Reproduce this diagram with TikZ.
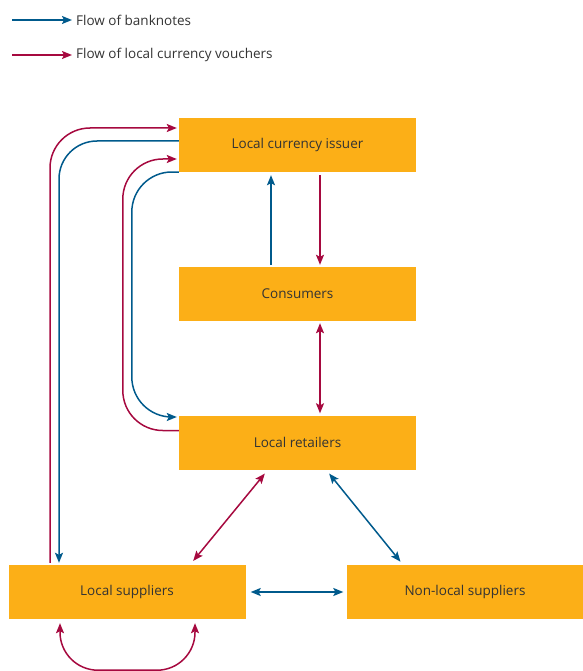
\documentclass[tikz,border=0pt]{standalone}
\usepackage{fontspec}
\setmainfont{Open Sans}
\usetikzlibrary{arrows.meta}
\definecolor{boxorange}{HTML}{FCAF17}
\definecolor{notesblue}{HTML}{005A8C}
\definecolor{voucherred}{HTML}{A6093F}
\definecolor{txtgrey}{HTML}{333333}
\tikzset{
  actor/.style={fill=boxorange, minimum width=237pt, minimum height=54pt, inner sep=0pt, text=txtgrey},
  notes/.style={draw=notesblue, line width=1.5pt, -{Stealth[length=10pt,width=8pt,inset=2pt]}},
  vouchers/.style={draw=voucherred, line width=1.5pt, -{Stealth[length=10pt,width=8pt,inset=2pt]}},
  both/.style={{Stealth[length=10pt,width=8pt,inset=2pt]}-{Stealth[length=10pt,width=8pt,inset=2pt]}},
  legendtext/.style={anchor=west, inner sep=4pt, text=txtgrey}
}
\begin{document}
\begin{tikzpicture}[x=1pt, y=-1pt, font=\fontsize{13.5}{16}\selectfont]
        \useasboundingbox (0,0) rectangle (582,671);

        % Legend
        \coordinate (legnotes) at (12,20);
        \coordinate (legvouchers) at (12,55);
        \node [legendtext] (legnotestext) at (72,20) {Flow of banknotes};
        \node [legendtext] (legvoucherstext) at (72,55) {Flow of local currency vouchers};
        \draw [notes] (legnotes) -- (legnotestext.west);
        \draw [vouchers] (legvouchers) -- (legvoucherstext.west);

        % Boxes
        \node [actor] (issuer) at (297.5,145) {Local currency issuer};
        \node [actor] (consumers) at (297.5,294) {Consumers};
        \node [actor] (retailers) at (297.5,442.5) {Local retailers};
        \node [actor] (suppliers) at (127,592) {Local suppliers};
        \node [actor] (nonlocal) at (465,592) {Non-local suppliers};

        % Issuer and consumers
        \draw [notes, shorten <=2pt, shorten >=3pt] ([xshift=-26.5pt]consumers.north) -- ([xshift=-26.5pt]issuer.south);
        \draw [vouchers, shorten <=3pt, shorten >=2pt] ([xshift=22.5pt]issuer.south) -- ([xshift=22.5pt]consumers.north);
        \draw [vouchers, both, shorten <=2pt, shorten >=2pt] ([xshift=22.5pt]consumers.south) -- ([xshift=22.5pt]retailers.north);

        % Retailers and suppliers
        \draw [vouchers, both, shorten <=5pt, shorten >=5pt] ([xshift=-29.5pt]retailers.south) -- ([xshift=63pt]suppliers.north);
        \draw [notes, both, shorten <=5pt, shorten >=4pt] ([xshift=28.5pt]retailers.south) -- ([xshift=-62pt]nonlocal.north);
        \draw [notes, both, shorten <=5pt, shorten >=3pt] (suppliers.east) -- (nonlocal.west);

        % Loops round the left side
        \draw [vouchers, rounded corners=40pt, shorten <=2pt, shorten >=2pt] ([xshift=-77pt]suppliers.north) |- ([yshift=17pt]issuer.west);
        \draw [notes, rounded corners=38pt, shorten >=2pt] ([yshift=4pt]issuer.west) -| ([xshift=-68pt]suppliers.north);
        \draw [vouchers, rounded corners=40pt, shorten >=2pt] ([yshift=12pt]retailers.west) -| ([xshift=-56pt,yshift=-14pt]issuer.west) -- ([yshift=-14pt]issuer.west);
        \draw [notes, rounded corners=40pt, shorten >=2pt] ([yshift=-27pt]issuer.west) -| ([xshift=-47pt,yshift=25.5pt]retailers.west) -- ([yshift=25.5pt]retailers.west);

        % Loop below the local suppliers
        \coordinate (loopleft) at ([xshift=-67pt,yshift=-51pt]suppliers.south);
        \coordinate (loopright) at ([xshift=68pt,yshift=-51pt]suppliers.south);
        \draw [vouchers, both, rounded corners=38pt, shorten <=4pt, shorten >=4pt] ([xshift=-67pt]suppliers.south) -- (loopleft) -- (loopright) -- ([xshift=68pt]suppliers.south);
\end{tikzpicture}
\end{document}
